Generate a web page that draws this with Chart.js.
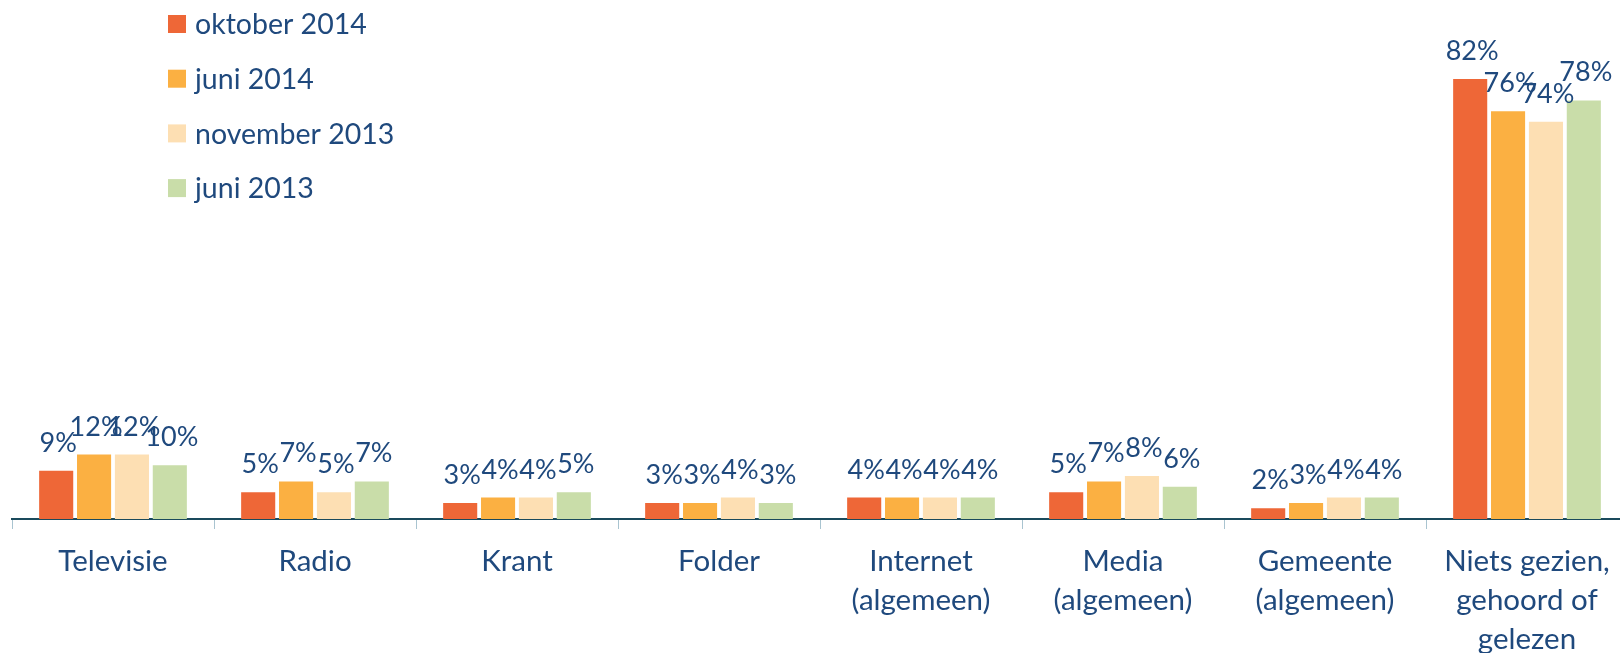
<!DOCTYPE html>
<html>
<head>
<meta charset="utf-8">
<script src="https://cdn.jsdelivr.net/npm/chart.js@4"></script>
<style>
  html, body { margin: 0; padding: 0; background: #fff; overflow: hidden; }
  #wrap { width: 1628px; height: 653px; position: relative; }
</style>
</head>
<body>
<div id="wrap"><canvas id="chart"></canvas></div>
<script>
const categories = [
  "Televisie", "Radio", "Krant", "Folder",
  ["Internet", "(algemeen)"], ["Media", "(algemeen)"], ["Gemeente", "(algemeen)"],
  ["Niets gezien,", "gehoord of", "gelezen"],
];
const seriesNames = ["oktober 2014", "juni 2014", "november 2013", "juni 2013"];
const oktober2014 = [9, 5, 3, 3, 4, 5, 2, 82];
const juni2014 = [12, 7, 4, 3, 4, 7, 3, 76];
const november2013 = [12, 5, 4, 4, 4, 8, 4, 74];
const juni2013 = [10, 7, 5, 3, 4, 6, 4, 78];
const colors = ["#ee6737", "#fbb042", "#fddfb3", "#c9dda9"];

const textColor = "#1f497d";
const fontFamily = "Lato, 'Open Sans', sans-serif";

const valueLabels = {
  id: "valueLabels",
  afterDatasetsDraw(chart) {
    const ctx = chart.ctx;
    ctx.save();
    ctx.font = `27px ${fontFamily}`;
    ctx.fillStyle = textColor;
    ctx.textAlign = "center";
    ctx.textBaseline = "alphabetic";
    chart.data.datasets.forEach((ds, i) => {
      chart.getDatasetMeta(i).data.forEach((bar, j) => {
        ctx.fillText(ds.data[j] + "%", bar.x + 2, bar.y - 19);
      });
    });
    ctx.restore();
  },
};

const sideLegend = {
  id: "sideLegend",
  afterDraw(chart) {
    const ctx = chart.ctx;
    ctx.save();
    ctx.font = `28.5px ${fontFamily}`;
    ctx.textBaseline = "middle";
    ctx.textAlign = "left";
    chart.data.datasets.forEach((ds, i) => {
      const top = 15 + i * 54.7;
      ctx.fillStyle = ds.backgroundColor;
      ctx.fillRect(168, top, 18, 18);
      ctx.fillStyle = textColor;
      ctx.fillText(ds.label, 195, top + 10);
    });
    ctx.restore();
  },
};

const seriesData = [oktober2014, juni2014, november2013, juni2013];

new Chart(document.getElementById("chart"), {
  type: "bar",
  data: {
    labels: categories,
    datasets: seriesNames.map((name, i) => ({
      label: name,
      data: seriesData[i],
      backgroundColor: colors[i],
      categoryPercentage: 0.75,
      barPercentage: 0.9,
    })),
  },
  options: {
    responsive: true,
    maintainAspectRatio: false,
    animation: false,
    layout: { padding: { left: 12, right: 0, top: 36, bottom: 0 } },
    scales: {
      x: {
        afterFit(scale) { scale.height = 134; },
        grid: {
          offset: true,
          drawOnChartArea: false,
          drawTicks: true,
          tickLength: 10,
          color: "#a9c4d0",
        },
        border: { display: true, color: "#1a4a5c", width: 2 },
        ticks: {
          padding: 13,
          color: textColor,
          font: { family: fontFamily, size: 29.5, lineHeight: 1.32 },
          maxRotation: 0,
          autoSkip: false,
        },
      },
      y: {
        display: false,
        min: 0,
        max: 90,
      },
    },
    plugins: {
      legend: { display: false },
      tooltip: { enabled: false },
    },
  },
  plugins: [valueLabels, sideLegend],
});
</script>
</body>
</html>
